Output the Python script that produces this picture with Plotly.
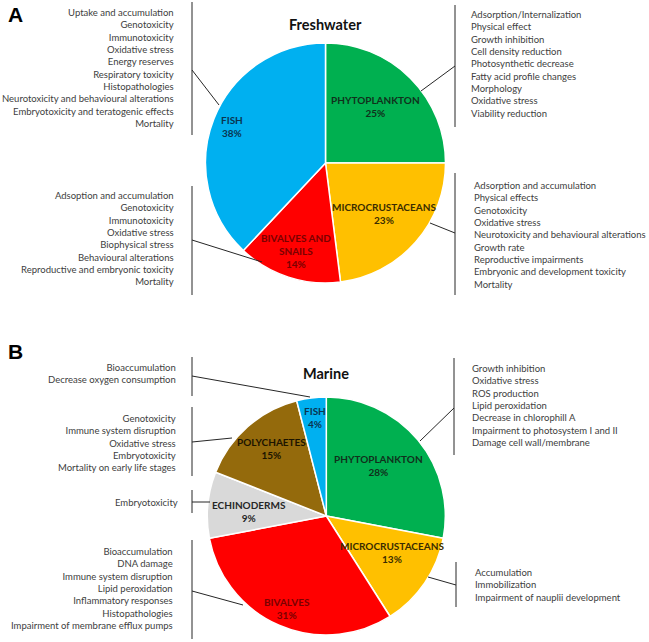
import plotly.graph_objects as go

W, H = 649, 642

# ---- data -----------------------------------------------------------------
fw_groups = ["PHYTOPLANKTON", "MICROCRUSTACEANS", "BIVALVES AND<br>SNAILS", "FISH"]
fw_share = [25, 23, 14, 38]

mar_groups = ["PHYTOPLANKTON", "MICROCRUSTACEANS", "BIVALVES", "ECHINODERMS", "POLYCHAETES", "FISH"]
mar_share = [28, 13, 31, 9, 15, 4]

fw_fish_fx = ["Uptake and accumulation", "Genotoxicity", "Immunotoxicity", "Oxidative stress",
              "Energy reserves", "Respiratory toxicity", "Histopathologies",
              "Neurotoxicity and behavioural alterations", "Embryotoxicity and teratogenic effects",
              "Mortality"]
fw_biv_fx = ["Adsoption and accumulation", "Genotoxicity", "Immunotoxicity", "Oxidative stress",
             "Biophysical stress", "Behavioural alterations", "Reproductive and embryonic toxicity",
             "Mortality"]
fw_phyto_fx = ["Adsorption/Internalization", "Physical effect", "Growth inhibition",
               "Cell density reduction", "Photosynthetic decrease", "Fatty acid profile changes",
               "Morphology", "Oxidative stress", "Viability reduction"]
fw_micro_fx = ["Adsorption and accumulation", "Physical effects", "Genotoxicity", "Oxidative stress",
               "Neurotoxicity and behavioural alterations", "Growth rate", "Reproductive impairments",
               "Embryonic and development toxicity", "Mortality"]

mar_fish_fx = ["Bioaccumulation", "Decrease oxygen consumption"]
mar_poly_fx = ["Genotoxicity", "Immune system disruption", "Oxidative stress", "Embryotoxicity",
               "Mortality on early life stages"]
mar_echi_fx = ["Embryotoxicity"]
mar_biv_fx = ["Bioaccumulation", "DNA damage", "Immune system disruption", "Lipid peroxidation",
              "Inflammatory responses", "Histopathologies", "Impairment of membrane efflux pumps"]
mar_phyto_fx = ["Growth inhibition", "Oxidative stress", "ROS production", "Lipid peroxidation",
                "Decrease in chlorophill A", "Impairment to photosystem I and II",
                "Damage cell wall/membrane"]
mar_micro_fx = ["Accumulation", "Immobilization", "Impairment of nauplii development"]

# ---- style ----------------------------------------------------------------
FONT = "Lato"
GREY = "#404040"
col = {"PHYTOPLANKTON": "#00B050", "MICROCRUSTACEANS": "#FFC000", "BIVALVES": "#FF0000",
       "BIVALVES AND<br>SNAILS": "#FF0000", "FISH": "#00B0F0", "ECHINODERMS": "#D9D9D9",
       "POLYCHAETES": "#946A0C"}
lab_col = {"#00B050": "#10301c", "#FFC000": "#3a2c00", "#FF0000": "#7a0000",
           "#00B0F0": "#0a3550", "#D9D9D9": "#262626", "#946A0C": "#1c1400"}


def px(x):
    return x / W


def py(y):
    return 1 - y / H


fig = go.Figure()


def add_pie(groups, share, cx, cy, r):
    fig.add_trace(go.Pie(
        labels=groups, values=share, sort=False, direction="clockwise", rotation=0,
        marker=dict(colors=[col[g] for g in groups], line=dict(color="white", width=1.5)),
        textinfo="none", hoverinfo="label+percent", showlegend=False,
        domain=dict(x=[px(cx - r), px(cx + r)], y=[py(cy + r), py(cy - r)]),
    ))


add_pie(fw_groups, fw_share, 325.5, 163, 120)
add_pie(mar_groups, mar_share, 326.3, 516, 119)

ann = []


def txt(text, x, y, size=9.5, anchor="center", color=GREY, bold=False, family=FONT):
    if bold:
        text = "<b>" + text + "</b>"
    ann.append(dict(text=text, x=px(x), y=py(y), xref="paper", yref="paper",
                    xanchor=anchor, yanchor="middle", showarrow=False,
                    align=anchor if anchor != "center" else "center",
                    font=dict(family=family, size=size, color=color)))


# titles and panel letters
txt("Freshwater", 325, 25, size=14.5, color="#111111", bold=True)
txt("Marine", 326, 373, size=14.5, color="#111111", bold=True)
txt("A", 15, 14, size=21, color="#000000", bold=True, family="Liberation Sans")
txt("B", 15, 351, size=21, color="#000000", bold=True, family="Liberation Sans")

# slice labels
fw_lab_pos = [(375, 107), (384, 213.5), (296, 250.5), (232, 126.5)]
for g, v, (x, y) in zip(fw_groups, fw_share, fw_lab_pos):
    txt(f"{g}<br>{v}%", x, y, size=10, color=lab_col[col[g]], bold=True)
mar_lab_pos = [(378, 465), (392, 552), (287, 608), (249, 511), (271, 448.5), (315, 417.5)]
for g, v, (x, y) in zip(mar_groups, mar_share, mar_lab_pos):
    txt(f"{g}<br>{v}%", x, y, size=10, color=lab_col[col[g]], bold=True)

# effect lists
txt("<br>".join(fw_fish_fx), 176, 67.5, anchor="right")
txt("<br>".join(fw_biv_fx), 176, 238.5, anchor="right")
txt("<br>".join(fw_phyto_fx), 469, 64, anchor="left")
txt("<br>".join(fw_micro_fx), 472, 234.5, anchor="left")
txt("<br>".join(mar_fish_fx), 178, 373, anchor="right")
txt("<br>".join(mar_poly_fx), 178, 442.5, anchor="right")
txt("<br>".join(mar_echi_fx), 180, 502, anchor="right")
txt("<br>".join(mar_biv_fx), 175, 588, anchor="right")
txt("<br>".join(mar_phyto_fx), 470, 405, anchor="left")
txt("<br>".join(mar_micro_fx), 473, 584.5, anchor="left")

# brackets and leader lines
segs = [
    (192, 2, 192, 135), (192, 70, 219, 105),
    (192, 186, 192, 295), (192, 240, 262, 262),
    (455, 5, 455, 127), (455, 66, 421, 91),
    (455, 173, 455, 295), (455, 233, 430, 223),
    (192, 357, 192, 396), (192, 376, 310, 397),
    (192, 407, 192, 476), (192, 442, 232, 438),
    (192, 490, 192, 513), (192, 502, 210, 502),
    (192, 540, 192, 639), (192, 591, 243, 605),
    (454, 358, 454, 455), (454, 408, 420, 441),
    (456, 562, 456, 607), (456, 585, 428, 577),
]
shapes = [dict(type="line", xref="paper", yref="paper", x0=px(a), y0=py(b), x1=px(c), y1=py(d),
               line=dict(color="#262626", width=1)) for a, b, c, d in segs]

fig.update_layout(
    width=W, height=H, margin=dict(l=0, r=0, t=0, b=0),
    paper_bgcolor="white", plot_bgcolor="white",
    annotations=ann, shapes=shapes,
)

# drop the browser's default 8px body margin so the figure sits at the page corner
fig.write_html("out.html", config={"displayModeBar": False},
               post_script="document.body.style.margin='0px';")
